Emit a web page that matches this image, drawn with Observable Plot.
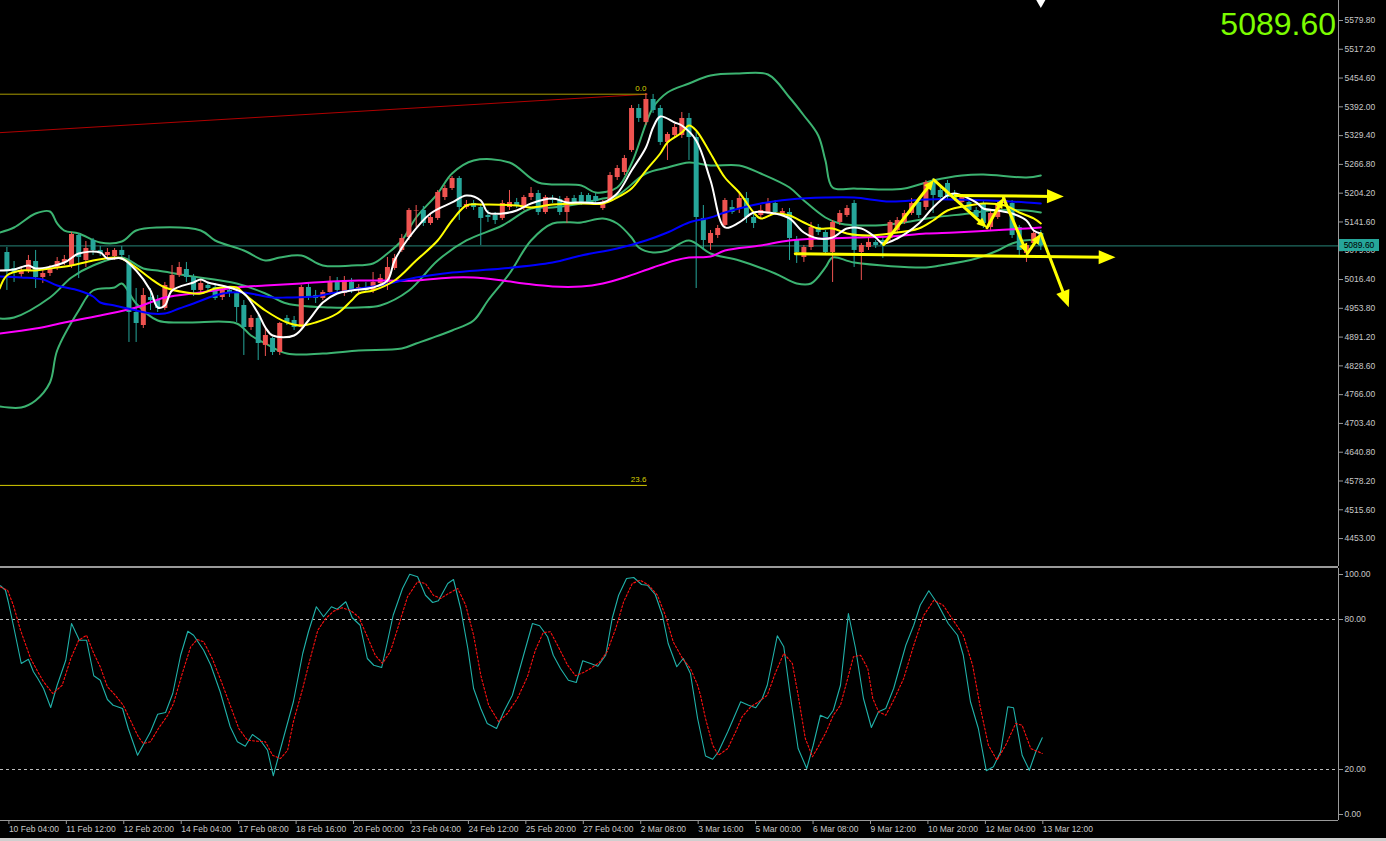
<!DOCTYPE html>
<html><head><meta charset="utf-8">
<script src="https://cdn.jsdelivr.net/npm/d3@7"></script>
<script src="https://cdn.jsdelivr.net/npm/@observablehq/plot@0.6"></script>
<style>
html,body{margin:0;padding:0;background:#000;}
#chart{position:relative;width:1386px;height:841px;background:#000;overflow:hidden;font-family:"Liberation Sans",Arial,sans-serif;}
#chart svg{position:absolute;left:0;}
.sep{position:absolute;left:0;width:1338px;height:2px;background:#9a9a9a;}
.bottomband{position:absolute;left:0;width:1386px;height:3px;background:#cfcfcf;}
.bigprice{position:absolute;font-size:32px;color:#7cfc00;line-height:38px;}
.tag{position:absolute;height:12px;line-height:12px;background:#26a69a;color:#000;font-size:8.5px;text-align:center;}
</style></head>
<body><div id="chart"></div>
<script>
// ---------- data ----------
const barLabels = ["10 Feb 04:00","11 Feb 12:00","12 Feb 20:00","14 Feb 04:00","17 Feb 08:00","18 Feb 16:00","20 Feb 00:00","23 Feb 04:00","24 Feb 12:00","25 Feb 20:00","27 Feb 04:00","2 Mar 08:00","3 Mar 16:00","5 Mar 00:00","6 Mar 08:00","9 Mar 12:00","10 Mar 20:00","12 Mar 04:00","13 Mar 12:00"];

const priceTicks = [5579.8,5517.2,5454.6,5392.0,5329.4,5266.8,5204.2,5141.6,5079.0,5016.4,4953.8,4891.2,4828.6,4766.0,4703.4,4640.8,4578.2,4515.6,4453.0];

const open = [5075.2,5040.4,5027.4,5036.1,5055.6,5020.8,5029.5,5040.4,5053.5,5046.9,
5112.2,5057.8,5101.3,5079.6,5068.7,5066.5,5079.6,5053.5,4944.7,4916.4,
4977.3,4970.8,4953.4,4992.6,5025.2,5038.2,5020.8,4992.6,5003.4,4999.1,
4977.3,4992.6,4986.0,4959.9,4912.1,4931.7,4873.0,4888.2,4857.7,4931.7,
4927.3,4912.1,4999.1,4981.7,4975.2,4988.2,5012.1,4986.0,5010.0,4992.6,
4999.1,4992.6,5007.8,5010.0,5040.4,5079.6,5107.8,5164.4,5166.6,5138.3,
5149.2,5194.8,5214.4,5236.2,5173.1,5181.8,5173.1,5155.7,5155.7,5149.2,
5173.1,5184.0,5173.1,5194.8,5203.5,5162.2,5192.7,5190.5,5162.2,5192.7,
5199.2,5199.2,5197.0,5170.9,5188.3,5238.3,5249.2,5297.1,5388.4,5358.0,
5408.0,5388.4,5314.5,5329.7,5329.7,5366.7,5325.3,5149.2,5094.8,5112.2,
5134.0,5173.1,5170.9,5192.7,5151.3,5155.7,5162.2,5181.8,5160.0,5162.2,
5103.5,5064.3,5086.1,5129.6,5118.7,5075.2,5140.5,5155.7,5181.8,5075.2,
5086.1,5097.0,5101.3,5105.7,5123.1,5140.5,5160.0,5184.0,5173.1,5227.5,
5210.1,5225.3,5203.5,5184.0,5184.0,5166.6,5181.8,5129.6,5151.3,5181.8,
5181.8,5129.6,5073.0,5094.8,5116.5];
const high = [5086.1,5055.6,5044.8,5068.7,5079.6,5036.1,5046.9,5064.3,5068.7,5118.7,
5116.5,5099.1,5105.7,5088.3,5083.9,5083.9,5088.3,5068.7,4996.9,4996.9,
4996.9,4981.7,5010.0,5046.9,5053.5,5053.5,5027.4,5014.3,5010.0,5007.8,
4999.1,5001.3,4999.1,4970.8,4938.2,4938.2,4912.1,4890.4,4923.0,4938.2,
4936.0,5003.4,5007.8,4992.6,4992.6,5023.0,5020.8,5023.0,5018.7,5005.6,
5010.0,5031.7,5027.4,5064.3,5070.9,5114.4,5170.9,5177.4,5175.3,5160.0,
5210.1,5220.9,5240.5,5240.5,5188.3,5188.3,5177.4,5166.6,5162.2,5188.3,
5210.1,5192.7,5199.2,5216.6,5210.1,5199.2,5199.2,5197.0,5197.0,5199.2,
5205.7,5203.5,5203.5,5188.3,5249.2,5264.4,5286.2,5394.9,5397.1,5421.0,
5418.9,5394.9,5336.2,5353.6,5379.7,5377.5,5336.2,5177.4,5123.1,5134.0,
5192.7,5188.3,5205.7,5205.7,5162.2,5177.4,5192.7,5188.3,5170.9,5170.9,
5110.0,5090.4,5140.5,5136.1,5123.1,5144.8,5166.6,5177.4,5188.3,5094.8,
5105.7,5101.3,5107.8,5144.8,5151.3,5166.6,5192.7,5192.7,5231.8,5236.2,
5220.9,5231.8,5210.1,5199.2,5190.5,5173.1,5188.3,5166.6,5188.3,5194.8,
5188.3,5134.0,5094.8,5123.1,5123.1];
const low = [4992.6,5010.0,5018.7,5029.5,4996.9,5007.8,5023.0,5036.1,5046.9,5040.4,
5018.7,5042.6,5068.7,5066.5,5062.2,5057.8,5057.8,4879.5,4879.5,4909.9,
4949.1,4944.7,4949.1,4988.2,5020.8,5010.0,4979.5,4986.0,4992.6,4970.8,
4970.8,4977.3,4923.0,4851.2,4905.6,4840.3,4849.0,4851.2,4851.2,4916.4,
4905.6,4905.6,4970.8,4964.3,4970.8,4983.9,4988.2,4979.5,4986.0,4986.0,
4988.2,4986.0,5001.3,4992.6,5036.1,5075.2,5101.3,5129.6,5131.8,5134.0,
5144.8,5188.3,5210.1,5144.8,5168.7,5166.6,5090.4,5140.5,5136.1,5144.8,
5166.6,5170.9,5166.6,5188.3,5155.7,5157.9,5181.8,5155.7,5138.3,5177.4,
5177.4,5179.6,5179.6,5166.6,5184.0,5231.8,5242.7,5292.7,5358.0,5351.4,
5377.5,5307.9,5275.3,5323.2,5323.2,5275.3,4996.9,5079.6,5079.6,5105.7,
5127.4,5157.9,5160.0,5138.3,5127.4,5149.2,5157.9,5155.7,5157.9,5057.8,
5051.3,5053.5,5079.6,5112.2,5068.7,5010.0,5134.0,5151.3,5042.6,5014.3,
5079.6,5083.9,5062.2,5097.0,5118.7,5136.1,5155.7,5149.2,5166.6,5160.0,
5188.3,5188.3,5186.1,5179.6,5162.2,5147.0,5127.4,5123.1,5147.0,5175.3,
5105.7,5066.5,5053.5,5088.3,5079.6];
const close = [5036.1,5029.5,5036.1,5057.8,5020.8,5029.5,5040.4,5055.6,5060.0,5114.4,
5064.3,5083.9,5079.6,5073.0,5075.2,5079.6,5068.7,4944.7,4920.8,4981.7,
4970.8,4953.4,5003.4,5025.2,5042.6,5020.8,4992.6,5007.8,4996.9,4975.2,
4992.6,4986.0,4955.6,4912.1,4931.7,4877.3,4894.7,4857.7,4920.8,4923.0,
4912.1,4999.1,4977.3,4975.2,4988.2,5012.1,4992.6,5014.3,4992.6,4999.1,
4992.6,5010.0,5018.7,5042.6,5062.2,5105.7,5166.6,5165.5,5138.3,5151.3,
5205.7,5214.4,5236.2,5173.1,5179.6,5173.1,5149.2,5151.3,5144.8,5181.8,
5184.0,5177.4,5194.8,5203.5,5162.2,5194.8,5188.3,5162.2,5192.7,5184.0,
5184.0,5184.0,5186.1,5184.0,5242.7,5257.9,5279.7,5388.4,5366.7,5408.0,
5384.1,5314.5,5331.9,5347.1,5366.7,5325.3,5151.3,5101.3,5116.5,5127.4,
5188.3,5162.2,5192.7,5151.3,5138.3,5166.6,5181.8,5162.2,5164.4,5105.7,
5075.2,5086.1,5129.6,5118.7,5075.2,5140.5,5160.0,5170.9,5079.6,5090.4,
5097.0,5090.4,5090.4,5140.5,5144.8,5160.0,5181.8,5155.7,5227.5,5199.2,
5194.8,5194.8,5192.7,5194.8,5166.6,5151.3,5138.3,5160.0,5181.8,5188.3,
5112.2,5079.6,5090.4,5116.5,5089.6];

// indicator readings: [bar, price]
const bbUpper = [[-1,5118.7],[1,5129.6],[4,5160],[6,5164.4],[7,5138.3],[8,5123],[10,5116.5],[13,5096.9],[16,5099.1],[18,5123],[21,5129.6],[27,5123],[29,5101.3],[33,5079.5],[36,5057.8],[38,5064.3],[41,5068.7],[44,5046.9],[48,5046.9],[51,5051.3],[53,5073],[55,5101.3],[57,5151.3],[60,5203.5],[62,5247],[65,5275.3],[70,5270.9],[74,5227.4],[80,5220.9],[82,5205.7],[85,5216.6],[87,5268.8],[90,5390.6],[92,5423.2],[95,5442.8],[98,5460.2],[102,5464.5],[106,5462.3],[109,5412.3],[111,5373.2],[113,5329.7],[114,5275.3],[115,5216.6],[118,5214.4],[122,5212.2],[125,5214.4],[129,5231.8],[133,5242.7],[136,5244.8],[142,5238.3],[144,5242.7]];
const bbMiddle = [[-1,4931.7],[1,4933.8],[6,4977.3],[9,5020.8],[12,5046.9],[16,5064.3],[19,5040.4],[21,5036],[25,5025.2],[32,5007.8],[36,4986],[39,4964.3],[45,4955.6],[49,4955.6],[52,4959.9],[56,4992.5],[60,5057.8],[64,5101.3],[69,5133.9],[73,5170.9],[76,5173.1],[80,5181.8],[83,5192.6],[85,5199.2],[89,5247],[92,5260],[95,5270.9],[98,5264.4],[102,5264.4],[105,5247],[109,5216.6],[111,5188.3],[114,5151.3],[116,5138.3],[121,5133.9],[125,5140.5],[129,5151.3],[134,5160],[137,5166.6],[142,5166.6],[144,5162.2]];
const bbLower = [[-1,4740.2],[2,4738],[4,4753.3],[6,4792.4],[7,4862],[10,4949],[12,4992.5],[15,4999.1],[16,5007.8],[18,4964.3],[21,4927.3],[25,4923],[32,4920.8],[34,4894.7],[36,4877.3],[39,4855.5],[44,4855.5],[49,4862],[55,4866.4],[57,4877.3],[59,4888.2],[62,4905.6],[65,4927.3],[67,4970.8],[70,5029.5],[73,5101.3],[76,5138.3],[80,5140.5],[83,5149.2],[85,5138.3],[87,5107.8],[88,5086],[90,5075.2],[92,5079.5],[95,5101.3],[98,5073],[102,5057.8],[107,5029.5],[110,5007.8],[112,5007.8],[114,5042.6],[115,5064.3],[118,5053.4],[128,5042.6],[130,5046.9],[135,5062.1],[138,5079.5],[140,5094.8],[143,5101.3],[144,5090.4]];
const maFast = [[-1,5036],[1,5038.2],[3,5046.9],[4,5040.4],[8,5053.4],[10,5073],[13,5075.2],[14,5062.1],[16,5062.1],[18,5036],[20,4992.5],[21,4955.6],[22,4959.9],[23,4992.5],[26,5010],[27,5016.5],[28,5010],[31,4999.1],[33,4986],[35,4942.5],[36,4912.1],[37,4894.7],[40,4894.7],[42,4927.3],[44,4966.4],[46,4986],[48,4992.5],[51,4999.1],[53,5014.3],[54,5057.8],[56,5107.8],[59,5160],[62,5184],[64,5199.2],[66,5188.3],[67,5162.2],[69,5160],[71,5166.6],[73,5181.8],[76,5192.6],[78,5184],[80,5184],[83,5184],[85,5203.5],[87,5253.5],[89,5303.6],[90,5347],[91,5371],[93,5358],[94,5351.4],[96,5318.8],[98,5231.8],[100,5129.6],[102,5140.5],[104,5162.2],[106,5162.2],[107,5160],[109,5149.2],[111,5118.7],[113,5105.6],[115,5107.8],[117,5127.4],[119,5127.4],[121,5107.8],[122,5094.8],[124,5105.6],[127,5138.3],[129,5173.1],[131,5199.2],[132,5203.5],[135,5184],[136,5170.9],[138,5166.6],[140,5160],[142,5144.8],[143,5123],[144,5116.5]];
const maMid = [[-1,4996.9],[0,5025.2],[2,5036],[4,5036],[6,5040.4],[9,5046.9],[12,5057.8],[15,5064.3],[16,5062.1],[18,5042.6],[20,5018.7],[22,4999.1],[25,4988.2],[27,4986],[29,4996.9],[32,4999.1],[33,4986],[36,4949],[39,4923],[41,4916.4],[43,4923],[46,4942.5],[48,4970.8],[49,4986],[51,4992.5],[54,5014.3],[57,5057.8],[60,5101.3],[62,5144.8],[64,5177.4],[66,5179.6],[71,5177.4],[73,5173.1],[76,5179.6],[80,5181.8],[83,5181.8],[85,5194.8],[87,5214.4],[89,5253.5],[91,5290.5],[92,5314.4],[94,5336],[95,5351.4],[96,5340.5],[98,5290.5],[100,5238.3],[102,5205.7],[104,5162.2],[105,5149.2],[107,5160],[109,5155.7],[111,5140.5],[113,5127.4],[115,5127.4],[117,5116.5],[120,5112.2],[123,5116.5],[127,5127.4],[129,5144.8],[131,5166.6],[134,5177.4],[136,5181.8],[139,5177.4],[141,5162.2],[143,5149.2],[144,5138.3]];
const maSlow = [[-1,5023],[2,5020.8],[5,5016.5],[7,5003.4],[10,4992.5],[12,4979.5],[13,4966.4],[15,4959.9],[18,4949],[20,4942.5],[22,4942.5],[24,4953.4],[26,4964.3],[29,4981.7],[31,4988.2],[33,4988.2],[37,4977.3],[39,4977.3],[43,4979.5],[45,4986],[47,4990.3],[49,4996.9],[52,5003.4],[57,5020.8],[62,5031.7],[69,5040.4],[76,5053.4],[80,5068.7],[85,5083.9],[89,5101.3],[92,5118.7],[95,5140.5],[98,5151.3],[100,5162.2],[105,5181.8],[109,5190.5],[114,5194.8],[118,5194.8],[123,5186.1],[128,5190.5],[132,5190.5],[137,5188.3],[142,5184],[144,5181.8]];
const maLong = [[-1,4899],[4,4909.9],[8,4922.9],[13,4938.2],[18,4955.6],[22,4977.3],[27,4988.2],[32,4999.1],[36,5003.4],[41,5007.8],[45,5012.1],[49,5014.3],[57,5014.3],[62,5020.8],[65,5020.8],[69,5014.3],[72,5007.8],[76,5001.2],[80,5001.2],[83,5007.8],[86,5020.8],[90,5042.6],[93,5057.8],[95,5064.3],[98,5066.5],[100,5079.5],[105,5090.4],[109,5101.3],[114,5105.6],[118,5107.8],[123,5110],[128,5116.5],[132,5118.7],[137,5123],[142,5127.4],[144,5129.6]];

const stochK = [[-0.9,93.5],[-0.2,91.7],[0.2,87],[0.9,77.7],[2.0,62.4],[3.0,64.1],[3.7,59.1],[4.3,56.4],[5.1,52.4],[6.1,44.8],[7.0,53.7],[8.2,63.7],[9.0,78.4],[10.1,71.7],[11.1,71.7],[12.1,57.5],[13.0,55.7],[14.0,48],[14.8,45.7],[16.1,44.4],[16.9,36.4],[18.2,25.7],[20.0,35.1],[21.0,42.1],[22.1,42.8],[23.1,50.4],[24.2,65.7],[25.2,75.3],[26.0,73.7],[27.4,67.7],[28.4,61.7],[29.7,51.1],[31.1,37.1],[32.1,31.1],[33.2,29.3],[34.2,34],[35.3,31.7],[36.3,27.7],[37.1,17.5],[38.5,32.4],[39.9,47.1],[41.2,66.4],[42.0,75.1],[43.1,85.1],[44.1,81.1],[45.2,85.1],[46.0,84.1],[47.2,87.1],[48.1,80.7],[49.2,77.7],[50.2,64.4],[51.1,61.7],[52.2,60.8],[53.0,71.1],[53.8,81.7],[55.1,92.4],[56.1,98.1],[57.2,97.1],[58.3,89.7],[59.3,86.8],[60.1,87.5],[61.4,94.4],[62.2,96],[63.2,84.4],[64.2,68.4],[65.0,52.4],[66.0,44.4],[66.9,38.4],[68.2,36.4],[69.2,43.1],[70.4,49.7],[71.9,65.1],[73.2,78.4],[74.2,77.5],[75.3,73.1],[76.1,65.7],[77.1,60.4],[78.2,55.7],[79.3,54.8],[80.2,63.5],[81.3,62.4],[82.3,61.3],[83.4,65.7],[84.3,80.4],[85.2,89.7],[86.3,96.4],[87.3,96.8],[88.4,94],[89.2,93.7],[90.3,90],[91.3,81.7],[92.1,70.4],[93.3,61.1],[94.2,64.4],[95.2,58.4],[96.2,40.4],[97.3,25.4],[98.3,24.1],[99.1,27.1],[100.4,35.1],[101.2,40.4],[102.2,47.1],[103.3,45.7],[104.3,44.7],[105.2,48.4],[105.9,53.7],[107.3,73.5],[108.2,69.1],[109.1,49.7],[110.2,28.4],[111.4,20.4],[112.3,29.7],[113.3,41.7],[114.3,40.4],[115.1,43.7],[116.1,53.7],[117.2,82.4],[118.2,68.4],[119.3,48.4],[120.4,36.8],[121.4,43.1],[122.4,44.4],[123.5,52.4],[125.2,69.7],[126.3,77.7],[127.2,85.7],[128.4,91.5],[129.6,86.4],[131.1,78.4],[132.4,73.7],[133.2,65.7],[134.2,47.1],[135.3,36.4],[136.4,19.5],[137.4,21.1],[138.4,27.1],[139.4,45.1],[140.2,44.7],[141.4,25.7],[142.4,19.7],[143.3,27.1],[144.2,32.7]];
const stochD = [[-0.9,93],[0.1,91.7],[0.9,85.7],[1.9,75.7],[3.3,64.4],[4.3,59.1],[5.1,55.1],[6.4,50.4],[7.7,53.7],[8.9,64.4],[10.0,71.7],[11.1,73.7],[12.1,66.4],[13.0,61.1],[14.0,53.1],[15.1,49.7],[16.2,45.7],[17.2,39.7],[18.3,33.1],[19.0,30.4],[20.0,31.1],[21.1,36.4],[22.4,41.7],[23.2,46.4],[24.5,59.1],[25.6,69.1],[26.5,72],[27.4,71.1],[28.6,64.4],[29.7,56.4],[31.1,45.7],[32.3,36.4],[33.5,31.7],[34.9,31.3],[36.0,31.1],[37.0,25.7],[38.1,24.4],[39.1,27.7],[39.9,39.1],[41.2,52.4],[42.0,61.7],[43.3,75.7],[44.4,80.4],[45.5,83.3],[46.7,84.7],[47.9,83.5],[49.0,81],[50.2,73.1],[51.3,65.7],[52.3,62.4],[53.4,67.1],[54.5,77.1],[55.8,89.1],[57.2,95.1],[58.3,94.4],[59.4,89.7],[60.4,88.4],[61.5,90.4],[62.8,92.4],[63.9,85.7],[65.0,73.7],[66.0,57.7],[67.1,45.7],[68.5,39.1],[69.7,42.4],[71.1,48.4],[72.5,57.1],[73.6,67.7],[74.7,74.8],[75.7,75.1],[76.8,69.1],[78.1,61.7],[79.2,57.5],[80.3,58.8],[81.3,60.4],[82.5,62.8],[83.6,67.1],[84.8,76.4],[85.9,87.1],[87.1,94.4],[88.2,95.7],[89.4,93.7],[90.6,89.7],[91.7,81.7],[92.8,71.1],[94.1,64.4],[95.2,60.4],[96.2,53.7],[96.6,49.7],[97.3,40.4],[98.3,29.7],[99.1,25.7],[100.4,28.4],[101.5,35.1],[102.4,41.1],[103.6,45.1],[104.7,47.1],[105.9,49.7],[107.0,58.4],[108.2,66.4],[109.4,62.4],[110.2,49.7],[111.2,32.4],[112.2,25.1],[113.0,29.1],[114.0,34.4],[115.1,41.7],[116.1,45.7],[117.1,56.4],[117.9,65.1],[118.9,65.7],[119.9,60.4],[120.6,48.4],[121.4,43.1],[122.4,41.7],[123.5,47.7],[124.9,56.4],[126.3,69.7],[127.7,81.7],[129.1,87.7],[130.4,85.7],[131.8,79.7],[133.2,73.7],[134.5,61.7],[135.6,44.4],[136.7,29.7],[137.9,23.7],[139.1,29.7],[140.5,38.4],[141.4,37.7],[142.6,28.4],[144.2,26.4]];

// drawings
const fibLevels = [
  {label: "0.0", price: 5419.5, from: -1, to: 89.2, color: "#a89a00"},
  {label: "23.6", price: 4568.6, from: -1, to: 89.2, color: "#d6cc00"}
];
const fibTrend = [[-1, 5335.8], [89.2, 5419.5]];
const zigzag = [[122.1,5092.6],[129.1,5233.3],[136.5,5128.9],[138.8,5194.1],[142.1,5072.3],[144.0,5115.8],[147.9,4956.2]];
const hArrows = [
  {x1: 132.1, y1: 5199.2, x2: 147.2, y2: 5197.0},
  {x1: 109.8, y1: 5072.3, x2: 154.4, y2: 5064.6}
];
const lastPrice = 5089.6;

// ---------- build ----------
const W = 1386, RIGHT = 48, MAIN_H = 566, STOCH_H = 252, XAX = 21;
const xDomain = [-0.891, 185.46];
const mainYDomain = [4392.2, 5623.3];
const stochYDomain = [-0.4, 100.4];
const font = '"Liberation Sans", Arial, sans-serif';
const bull = "#ef5350", bear = "#26a69a";
const candles = close.map((c, i) => ({i, o: open[i], h: high[i], l: low[i], c, col: c >= open[i] ? bull : bear}));

// standalone scales identical to the main plot's, used to orient arrowheads
const sx = Plot.scale({x: {domain: xDomain, range: [0, W - RIGHT]}});
const sy = Plot.scale({y: {domain: mainYDomain, range: [MAIN_H, 0]}});
const withAngle = s => ({...s, angle: Math.atan2(sy.apply(s.y2) - sy.apply(s.y1), sx.apply(s.x2) - sx.apply(s.x1)) * 180 / Math.PI + 90});
const zigSegs = zigzag.slice(1).map((p, k) => withAngle({x1: zigzag[k][0], y1: zigzag[k][1], x2: p[0], y2: p[1]}));
const zigSmall = zigSegs.slice(0, -1), zigLast = zigSegs.slice(-1);
const hSegs = hArrows.map(withAngle);
// arrowhead symbol: tip at the origin, pointing up
const arrowHead = {draw(ctx, size) { const r = Math.sqrt(size / Math.PI); ctx.moveTo(0, 0); ctx.lineTo(-r, 2.4 * r); ctx.lineTo(r, 2.4 * r); ctx.closePath(); }};

const px = d => d[0], py = d => d[1];
const line = (data, stroke, w) => Plot.line(data, {x: px, y: py, stroke, strokeWidth: w, curve: "catmull-rom", clip: true});
const shaft = (data, inset) => Plot.arrow(data, {x1: "x1", y1: "y1", x2: "x2", y2: "y2", stroke: "#ffff00", strokeWidth: 3, headLength: 0, insetEnd: inset});
const head = (data, r) => Plot.dot(data, {x: "x2", y: "y2", symbol: arrowHead, r, rotate: "angle", fill: "#ffff00", stroke: "none"});

const mainPlot = Plot.plot({
  width: W, height: MAIN_H,
  marginLeft: 0, marginRight: RIGHT, marginTop: 0, marginBottom: 0,
  style: {background: "transparent", color: "#c8c8c8", fontFamily: font, fontSize: "8.5px"},
  x: {domain: xDomain, axis: null},
  y: {domain: mainYDomain},
  marks: [
    Plot.ruleY([lastPrice], {stroke: "#1f6b60", strokeWidth: 1.3}),
    Plot.line(fibTrend, {x: px, y: py, stroke: "#b00000", strokeWidth: 1, clip: true}),
    Plot.ruleY(fibLevels, {y: "price", x1: "from", x2: "to", stroke: "color", strokeWidth: 1, clip: true}),
    Plot.text(fibLevels, {x: "to", y: "price", text: "label", textAnchor: "end", dy: -6, dx: -1, fill: "#d8d000", fontSize: 8}),
    line(bbUpper, "#3cb371", 2),
    line(bbMiddle, "#3cb371", 2),
    line(bbLower, "#3cb371", 2),
    Plot.ruleX(candles, {x: "i", y1: "l", y2: "h", stroke: "col", strokeWidth: 1, clip: true}),
    Plot.ruleX(candles, {x: "i", y1: "o", y2: "c", stroke: "col", strokeWidth: 5, clip: true}),
    line(maLong, "#ff00ff", 2),
    line(maSlow, "#0000ff", 2),
    line(maMid, "#ffff00", 2),
    line(maFast, "#ffffff", 2),
    shaft(zigSmall, 6), shaft(zigLast, 10), shaft(hSegs, 10),
    head(zigSmall, 4.3), head(zigLast, 7), head(hSegs, 7),
    Plot.axisY(priceTicks, {anchor: "right", tickFormat: d => d.toFixed(2), tickSize: 4, tickPadding: 2, stroke: "#9a9a9a"}),
    Plot.ruleX([xDomain[1]], {stroke: "#9a9a9a"}),
    Plot.dot([close.length - 1], {x: d => d, frameAnchor: "top", symbol: "triangle", r: 3.5, rotate: 180, fill: "#ffffff", dy: 2})
  ]
});
mainPlot.style.top = "0px";

const tickIdx = barLabels.map((_, k) => k * 8);
const stochPlot = Plot.plot({
  width: W, height: STOCH_H + XAX,
  marginLeft: 0, marginRight: RIGHT, marginTop: 0, marginBottom: XAX,
  style: {background: "transparent", color: "#c8c8c8", fontFamily: font, fontSize: "8.5px"},
  x: {domain: xDomain},
  y: {domain: stochYDomain},
  marks: [
    Plot.ruleY([80, 20], {stroke: "#bdbdbd", strokeDasharray: "3,3"}),
    Plot.line(stochK, {x: px, y: py, stroke: "#20b2aa", strokeWidth: 1.1, clip: true}),
    Plot.line(stochD, {x: px, y: py, stroke: "#ff1010", strokeWidth: 1.1, strokeDasharray: "2,2", clip: true}),
    Plot.axisY([100], {anchor: "right", tickFormat: d => d.toFixed(2), tickSize: 4, tickPadding: 2, dy: 5, stroke: "#9a9a9a"}),
    Plot.axisY([80, 20], {anchor: "right", tickFormat: d => d.toFixed(2), tickSize: 4, tickPadding: 2, stroke: "#9a9a9a"}),
    Plot.axisY([0], {anchor: "right", tickFormat: d => d.toFixed(2), tickSize: 4, tickPadding: 2, dy: -5, stroke: "#9a9a9a"}),
    Plot.axisX(tickIdx, {anchor: "bottom", tickFormat: i => barLabels[i / 8], tickSize: 4, tickPadding: 1, textAnchor: "start", dx: 2, stroke: "#9a9a9a"}),
    Plot.ruleY([stochYDomain[0]], {stroke: "#9a9a9a"}),
    Plot.ruleX([xDomain[1]], {stroke: "#9a9a9a"})
  ]
});
stochPlot.style.top = (MAIN_H + 2) + "px";

const root = document.getElementById("chart");
root.appendChild(mainPlot);
const sep = document.createElement("div");
sep.className = "sep"; sep.style.top = MAIN_H + "px";
root.appendChild(sep);
root.appendChild(stochPlot);
const band = document.createElement("div");
band.className = "bottomband"; band.style.top = "838px";
root.appendChild(band);

// price tag + big price, positioned through the plot's own y scale
const yS = mainPlot.scale("y");
const tagY = yS.apply(lastPrice);
const tag = document.createElement("div");
tag.className = "tag";
tag.textContent = lastPrice.toFixed(2);
tag.style.left = (W - RIGHT + 1) + "px";
tag.style.width = "40px";
tag.style.top = (tagY - 6) + "px";
root.appendChild(tag);

const big = document.createElement("div");
big.className = "bigprice";
big.textContent = lastPrice.toFixed(2);
big.style.right = (RIGHT + 2) + "px";
big.style.top = "5px";
root.appendChild(big);
</script>
</body></html>
